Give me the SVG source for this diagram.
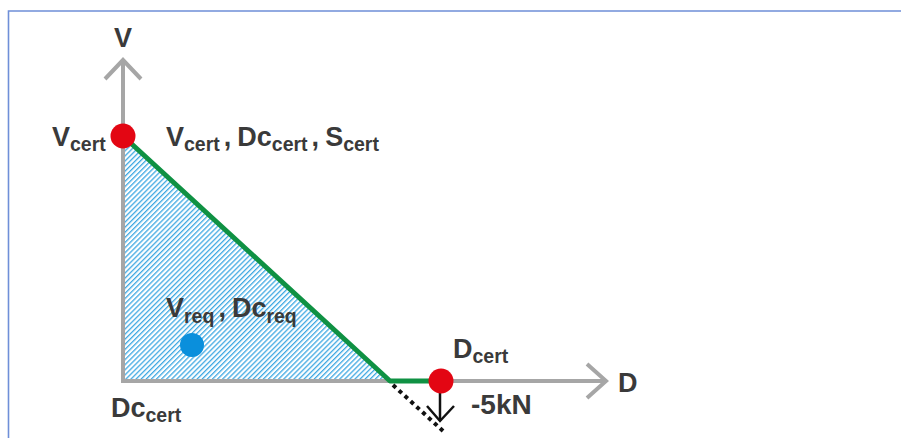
<svg xmlns="http://www.w3.org/2000/svg" width="901" height="438" viewBox="0 0 901 438">
<defs>
<style>
.lbl{font-family:"Liberation Sans",Arial,sans-serif;font-weight:bold;fill:#3a3a3a;font-size:27px}
.sub{font-size:19.5px}
.axis{stroke:#a6a6a6;stroke-width:4;fill:none}
.green{stroke:#0f9143;stroke-width:5;fill:none;stroke-linejoin:round}
.red{fill:#e30613}
</style>
<pattern id="hatch" patternUnits="userSpaceOnUse" width="3.6" height="3.6" patternTransform="rotate(45)">
<rect x="0" y="0" width="3.6" height="3.6" fill="#ffffff"/>
<rect x="0" y="0" width="1.3" height="3.6" fill="#3ea8e2"/>
</pattern>
</defs>
<rect width="901" height="438" fill="#fff"/>
<path d="M8.5,438 V11 H901" fill="none" stroke="#6f8fd8" stroke-width="1.6"/>

<g id="region">
<polygon points="123,136 123,381 390,381" fill="url(#hatch)"/>
</g>

<g id="axis-v">
<path class="axis" d="M123,383 V59"/>
<path class="axis" d="M105,79 L123,60 L141,79"/>
<text class="lbl" x="123" y="47" text-anchor="middle">V</text>
</g>
<g id="axis-d">
<path class="axis" d="M121,381 H606"/>
<path class="axis" d="M587,364 L606,381 L587,398"/>
<text class="lbl" x="618" y="392">D</text>
</g>

<g id="connectors">
<path class="green" d="M123,136 L390,381 H440"/>
<path d="M393,385 L443,431" stroke="#111" stroke-width="4" stroke-dasharray="4 4" fill="none"/>
<path d="M440,381 V421" stroke="#111" stroke-width="2.5" fill="none"/>
<path d="M427,406 L440,421 L454,406" stroke="#111" stroke-width="2.5" fill="none"/>
</g>

<g id="p-vcert">
<circle class="red" cx="123" cy="136" r="12.5"/>
<text class="lbl" x="52" y="146">V<tspan class="sub" dy="5">cert</tspan></text>
<text class="lbl" x="166" y="146">V<tspan class="sub" dy="5">cert</tspan><tspan dy="-5" dx="4">,</tspan><tspan dx="6">Dc</tspan><tspan class="sub" dy="5">cert</tspan><tspan dy="-5" dx="4">,</tspan><tspan dx="6">S</tspan><tspan class="sub" dy="5">cert</tspan></text>
</g>

<g id="p-dcert">
<circle class="red" cx="441" cy="381" r="12.5"/>
<text class="lbl" x="453" y="358">D<tspan class="sub" dy="5">cert</tspan></text>
<text class="lbl" x="471" y="414" style="font-size:28px">-5kN</text>
</g>

<g id="p-req">
<circle cx="192" cy="345" r="12" fill="#0a8fdc"/>
<text class="lbl" x="166" y="317">V<tspan class="sub" dy="6">req</tspan><tspan dy="-6" dx="4">,</tspan><tspan dx="6">Dc</tspan><tspan class="sub" dy="6">req</tspan></text>
</g>

<g id="l-dccert">
<text class="lbl" x="111" y="417">Dc<tspan class="sub" dy="5">cert</tspan></text>
</g>
</svg>
